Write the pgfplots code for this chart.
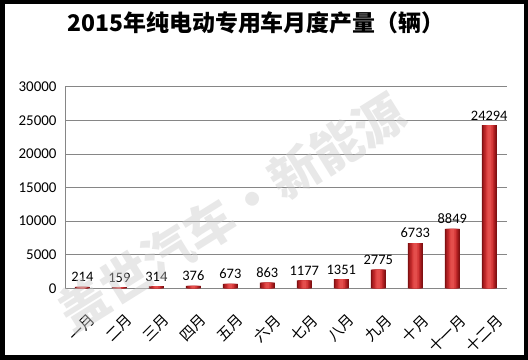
\documentclass[border=0pt]{standalone}
\usepackage{pgfplots}
\pgfplotsset{compat=1.18}
\usepackage{fontspec}
\setmainfont{Carlito}
\newfontfamily\cjk{Noto Sans CJK SC}
\definecolor{barA}{RGB}{128,16,18}
\definecolor{barB}{RGB}{160,26,28}
\definecolor{barC}{RGB}{190,40,42}
\definecolor{barD}{RGB}{212,56,56}
\definecolor{barE}{RGB}{228,78,76}
\definecolor{gridc}{RGB}{134,134,134}
\pgfplotstableread{
x y
0 214
1 159
2 314
3 376
4 673
5 863
6 1177
7 1351
8 2775
9 6733
10 8849
11 24294
}\datatable
\begin{document}
\begin{tikzpicture}
\draw[line width=4.5bp] (2.25bp,2.25bp) rectangle (525.75bp,357.75bp);
\node[font=\cjk\bfseries\fontsize{23}{25}\selectfont] at (256bp,337bp) {2015年纯电动专用车月度产量（辆）};
\begin{axis}[
  at={(65bp,71.7bp)}, anchor=south west,
  scale only axis, width=442bp, height=201.6bp,
  xmin=-0.47, xmax=11.48, ymin=0, ymax=30000,
  ybar,
  ytick={0,5000,10000,15000,20000,25000,30000},
  xtick={0,1,2,3,4,5,6,7,8,9,10,11},
  xticklabels={一月,二月,三月,四月,五月,六月,七月,八月,九月,十月,十一月,十二月},
  x tick label style={rotate=45, anchor=north east, font=\cjk\fontsize{15}{15}\selectfont, xshift=-10bp, yshift=-18bp},
  y tick label style={font=\fontsize{15}{15}\selectfont, xshift=-5bp},
  major tick length=0pt,
  ymajorgrids, grid style={gridc, line width=0.8pt},
  axis x line*=bottom, axis y line*=left,
  axis line style={-, gridc, line width=0.8pt},
  scaled y ticks=false,
  /pgf/number format/.cd, 1000 sep={}, assume math mode=true,
  /pgfplots/.cd,
]
\addplot[draw=none, fill=barA, bar width=15bp, bar shift=0pt] table[x=x,y=y] {\datatable};
\addplot[draw=none, fill=barB, bar width=12.5bp, bar shift=0pt] table[x=x,y=y] {\datatable};
\addplot[draw=none, fill=barC, bar width=10bp, bar shift=0pt] table[x=x,y=y] {\datatable};
\addplot[draw=none, fill=barD, bar width=7bp, bar shift=0pt] table[x=x,y=y] {\datatable};
\addplot[draw=none, fill=barE, bar width=4bp, bar shift=0pt,
  nodes near coords={\pgfmathprintnumber[assume math mode=true,1000 sep={}]{\pgfplotspointmeta}},
  every node near coord/.append style={black, font=\fontsize{14.5}{14.5}\selectfont, anchor=south, yshift=1.5bp}] table[x=x,y=y] {\datatable};
\end{axis}
\node[rotate=32, font=\cjk\bfseries\fontsize{50}{50}\selectfont, text=black!20, opacity=0.45] at (231bp,148bp) {盖世汽车·新能源};
\end{tikzpicture}
\end{document}
